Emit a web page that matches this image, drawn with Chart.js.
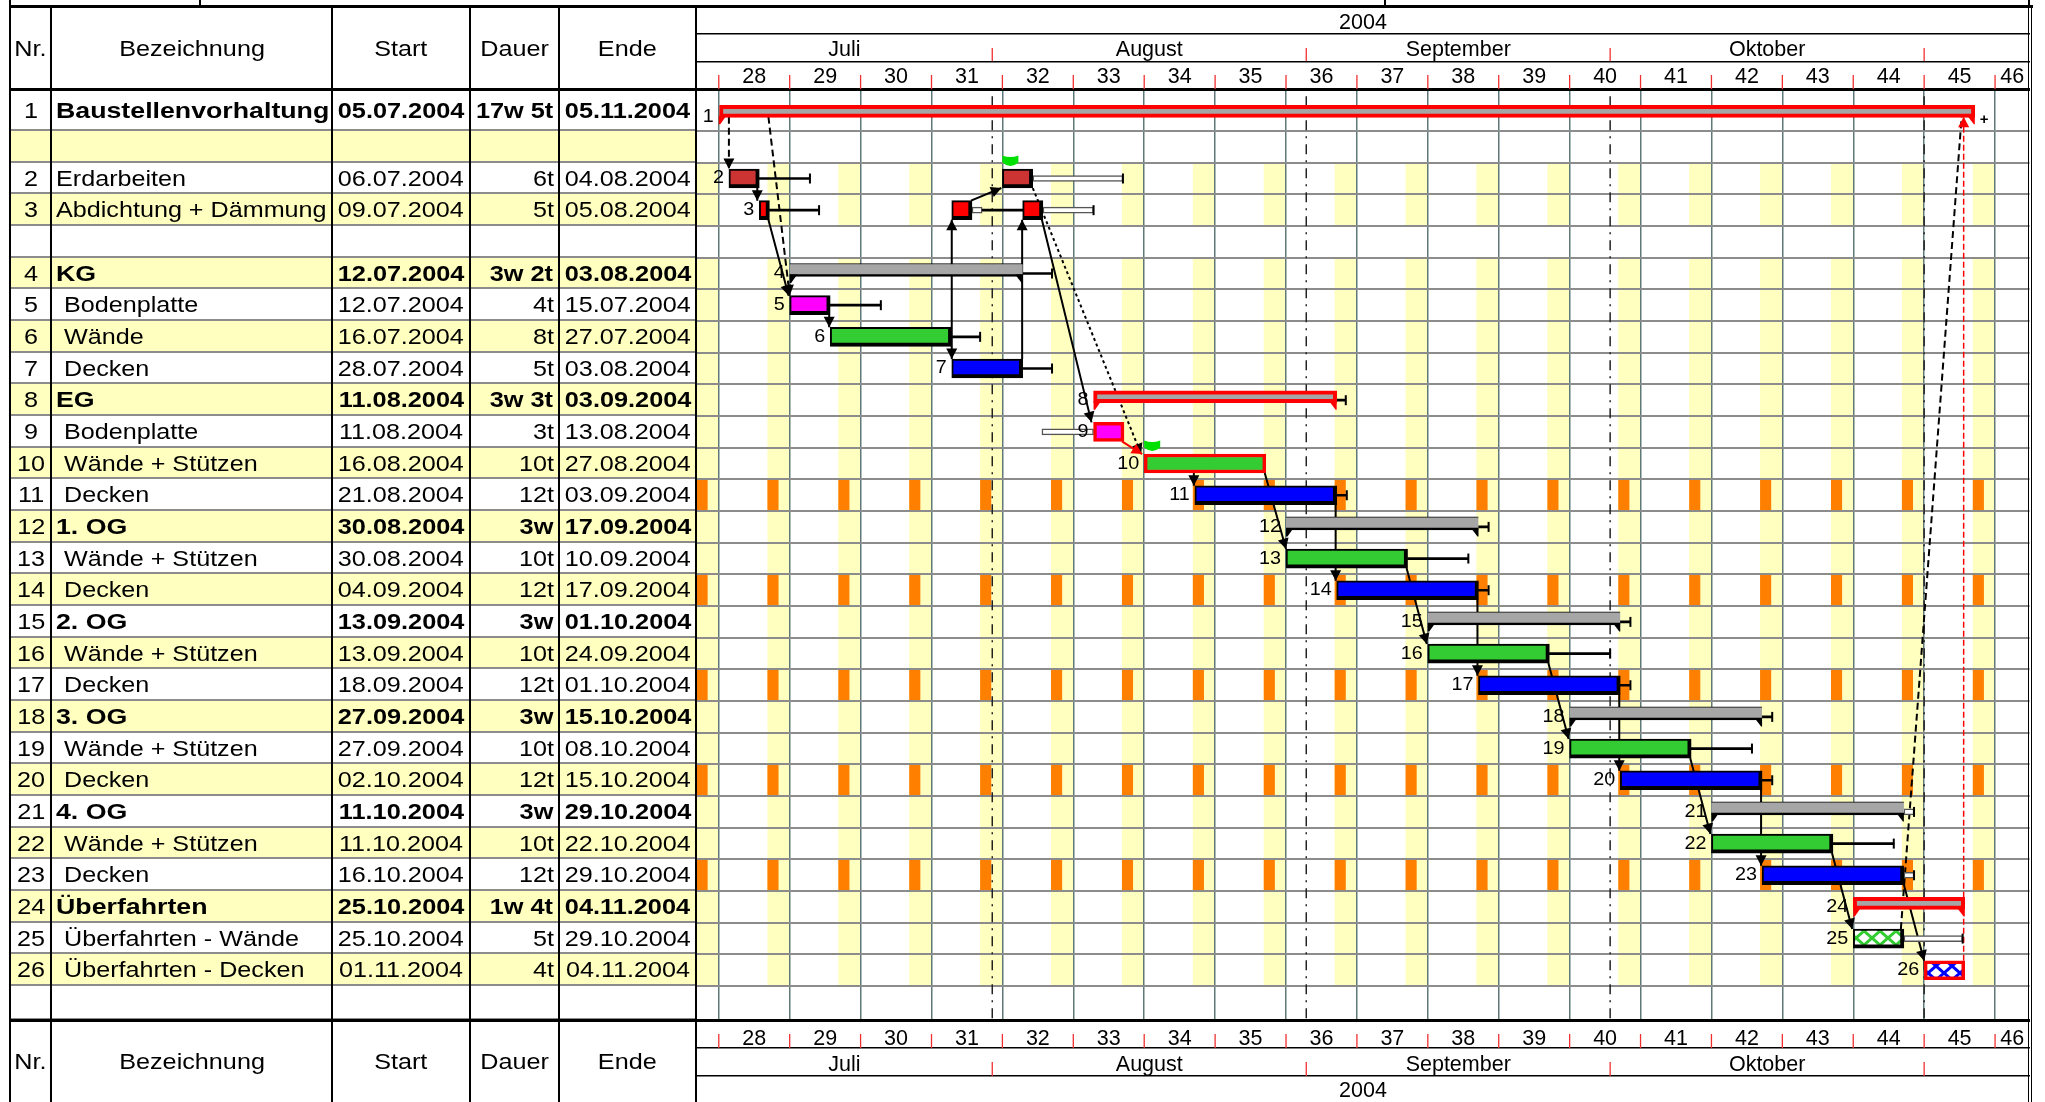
<!DOCTYPE html>
<html>
<head>
    <title>Bauzeitenplan 2004</title>
    <script src="https://cdn.jsdelivr.net/npm/chart.js"></script>
    <style>
        html, body { margin: 0; background: #fff; overflow: hidden; }
        body { width: 2045px; height: 1102px; position: relative; font-family: "Liberation Sans", Arial, sans-serif; color: #000; }
        canvas { position: absolute; left: 0; top: 0; }
        .hline, .vline { position: absolute; background: #000; }
        .row { position: absolute; left: 10px; width: 687px; box-sizing: border-box; border-bottom: 2px solid #8c8c8c; display: grid; grid-template-columns: 41.5px 280.5px 138px 88.5px 138.5px; }
        .row.yellow { background: #ffffc0; }
        .head { border-bottom: none; font-size: 22.5px; }
        .cell { white-space: nowrap; overflow: visible; text-align: center; }
        .cell span { display: inline-block; transform: scaleX(1.12); }
        .row.task { font-size: 21.5px; }
        .row.task .cell span { transform: scaleX(1.17); }
        .row.task.bold { font-weight: bold; font-size: 22px; }
        .row.task.bold .cell span { transform: scaleX(1.15); }
        .row.task.bold .cell.name span { transform: scaleX(1.215); }
        .row.task.bold .cell.nr { font-weight: normal; }
        .name { text-align: left; padding-left: 4px; }
        .name span { transform-origin: left center; }
        .name.sub { padding-left: 12px; }
        .dur { text-align: right; padding-right: 5px; }
        .dur span { transform-origin: right center; }
    </style>
</head>
<body>
    <canvas id="gantt" width="2045" height="1102"></canvas>
    <div id="table"></div>

    <script>
        // table columns
        const headers = ['Nr.', 'Bezeichnung', 'Start', 'Dauer', 'Ende'];
        const taskNames = ['Baustellenvorhaltung', 'Erdarbeiten', 'Abdichtung + Dämmung', 'KG', ' Bodenplatte', ' Wände', ' Decken', 'EG', ' Bodenplatte', ' Wände + Stützen', ' Decken', '1. OG', ' Wände + Stützen', ' Decken', '2. OG', ' Wände + Stützen', ' Decken', '3. OG', ' Wände + Stützen', ' Decken', '4. OG', ' Wände + Stützen', ' Decken', 'Überfahrten', ' Überfahrten - Wände', ' Überfahrten - Decken'];
        const taskStarts = ['05.07.2004', '06.07.2004', '09.07.2004', '12.07.2004', '12.07.2004', '16.07.2004', '28.07.2004', '11.08.2004', '11.08.2004', '16.08.2004', '21.08.2004', '30.08.2004', '30.08.2004', '04.09.2004', '13.09.2004', '13.09.2004', '18.09.2004', '27.09.2004', '27.09.2004', '02.10.2004', '11.10.2004', '11.10.2004', '16.10.2004', '25.10.2004', '25.10.2004', '01.11.2004'];
        const taskDurations = ['17w 5t', '6t', '5t', '3w 2t', '4t', '8t', '5t', '3w 3t', '3t', '10t', '12t', '3w', '10t', '12t', '3w', '10t', '12t', '3w', '10t', '12t', '3w', '10t', '12t', '1w 4t', '5t', '4t'];
        const taskEnds = ['05.11.2004', '04.08.2004', '05.08.2004', '03.08.2004', '15.07.2004', '27.07.2004', '03.08.2004', '03.09.2004', '13.08.2004', '27.08.2004', '03.09.2004', '17.09.2004', '10.09.2004', '17.09.2004', '01.10.2004', '24.09.2004', '01.10.2004', '15.10.2004', '08.10.2004', '15.10.2004', '29.10.2004', '22.10.2004', '29.10.2004', '04.11.2004', '29.10.2004', '04.11.2004'];
        const boldTasks = [1, 4, 8, 12, 15, 18, 21, 24];

        // time axis, in days after Monday 05.07.2004
        const weekLabels = ['28', '29', '30', '31', '32', '33', '34', '35', '36', '37', '38', '39', '40', '41', '42', '43', '44', '45', '46'];
        const weekStarts = [0, 7, 14, 21, 28, 35, 42, 49, 56, 63, 70, 77, 84, 91, 98, 105, 112, 119, 126];
        const weekCentres = [3.5, 10.5, 17.5, 24.5, 31.5, 38.5, 45.5, 52.5, 59.5, 66.5, 73.5, 80.5, 87.5, 94.5, 101.5, 108.5, 115.5, 122.5, 127.7];
        const monthLabels = ['Juli', 'August', 'September', 'Oktober'];
        const monthCentres = [12.4, 42.5, 73, 103.5];
        const monthStarts = [27, 58, 88, 119];
        const yearLabels = ['2004'];
        const yearCentres = [63.6];
        const saturdays = [-2, 5, 12, 19, 26, 33, 40, 47, 54, 61, 68, 75, 82, 89, 96, 103, 110, 117, 124];
        const orangeRows = [11, 14, 17, 20, 23];
        const weekendRows = [2, 3, 4, 5, 6, 7, 8, 9, 10, 11, 12, 13, 14, 15, 16, 17, 18, 19, 20, 21, 22, 23, 24, 25, 26];

        // bars: [task, from day, to day]
        const earthBars = [[2, 1, 4], [2, 28, 31]];
        const sealBars = [[3, 4, 5], [3, 23, 25], [3, 30, 32]];
        const slabBars = [[5, 7, 11]];
        const slabCriticalBars = [[9, 37, 40]];
        const wallBars = [[6, 11, 23], [13, 56, 68], [16, 70, 82], [19, 84, 96], [22, 98, 110]];
        const wallCriticalBars = [[10, 42, 54]];
        const deckBars = [[7, 23, 30], [11, 47, 61], [14, 61, 75], [17, 75, 89], [20, 89, 103], [23, 103, 117]];
        const wallPlanBars = [[25, 112, 117]];
        const deckPlanBars = [[26, 119, 123]];
        const summaryBars = [[4, 7, 30], [12, 56, 75], [15, 70, 89], [18, 84, 103], [21, 98, 117]];
        const summaryCriticalBars = [[1, 0, 124], [8, 37, 61], [24, 112, 123]];

        // float: [task, from day, to day, end cap]
        const floatLines = [[2, 4, 9, 1], [3, 5, 9.9, 1], [3, 26, 30, 0], [4, 30, 32.9, 1], [5, 11, 16, 1], [6, 23, 25.8, 1], [7, 30, 32.9, 1], [8, 61, 61.9, 1], [11, 61, 62, 1], [12, 75, 76, 1], [13, 68, 74, 1], [14, 75, 76, 1], [15, 89, 90, 1], [16, 82, 88, 1], [17, 89, 90, 1], [18, 103, 104, 1], [19, 96, 102, 1], [20, 103, 104, 1], [22, 110, 116, 1]];
        const floatHollow = [[2, 31, 39.9, 1], [3, 25, 26, 0], [3, 32, 37, 1], [9, 31.9, 37, 0], [21, 117, 118, 1], [23, 117, 118, 1], [25, 117, 122.8, 1]];

        // links: [from day, from task, to day, to task]
        const solidLinks = [[3.8, 2, 3.8, 3], [4.9, 3, 6.9, 5], [10.9, 5, 10.9, 6], [23, 6, 23, 7], [23, 7, 23, 3], [29.95, 7, 29.95, 3], [24.9, 3, 27.9, 2], [31.9, 3, 36.8, 9], [46.9, 10, 46.9, 11], [53.9, 10, 56, 13], [60.9, 11, 60.9, 14], [67.9, 13, 69.9, 16], [74.9, 14, 74.9, 17], [81.9, 16, 83.9, 19], [88.9, 17, 88.9, 20], [95.9, 19, 97.9, 22], [102.9, 20, 102.9, 23], [109.9, 22, 111.9, 25], [117, 23, 119, 26]];
        const dashedLinks = [[1, 1, 1, 2], [4.9, 1, 7, 5]];
        const dashedOpenLinks = [[116.7, 25, 122.7, 1]];
        const dottedLinks = [[31, 2, 41.7, 10]];
        const redLinks = [[39.8, 9, 41.8, 10]];
        const redDashedLinks = [[122.9, 26, 122.9, 1]];
        const flags = [[28, 2], [42, 10]];

        // taller first row, then blank row, tasks 2+3, blank row, rest
        const rowMid = nr => nr === 1 ? -0.65 : (nr <= 3 ? nr - 0.5 : nr + 0.5);
        const summaryRow = nr => nr === 1 ? -0.62 : rowMid(nr) - 0.11;
        const linkRow = nr => nr === 1 ? -0.75 : rowMid(nr);
        const HALF_BAR = 0.3;

        function barData(list, rowFn) {
            return list.map(b => ({ x: [b[1], b[2]], y: rowFn(b[0]) }));
        }

        function linkData(list) {
            const out = [];
            list.forEach(l => {
                const dir = l[3] > l[1] ? 1 : -1;
                out.push({ x: l[0], y: linkRow(l[1]) + dir * HALF_BAR });
                out.push({ x: l[2], y: linkRow(l[3]) - dir * HALF_BAR });
                out.push({ x: null, y: null });
            });
            return out;
        }

        function hatch(color) {
            const c = document.createElement('canvas');
            c.width = 16;
            c.height = 14;
            const g = c.getContext('2d');
            g.fillStyle = '#fff';
            g.fillRect(0, 0, 16, 14);
            g.strokeStyle = color;
            g.lineWidth = 3;
            g.beginPath();
            g.moveTo(0, 0); g.lineTo(16, 14);
            g.moveTo(16, 0); g.lineTo(0, 14);
            g.stroke();
            return g.createPattern(c, 'repeat');
        }

        const shadowBorder = { top: 2, left: 2, right: 4, bottom: 4 };

        function bars(list, fill, border, width, thickness, rowFn) {
            return {
                type: 'bar',
                data: barData(list, rowFn || rowMid),
                backgroundColor: fill,
                borderColor: border,
                borderWidth: width,
                borderSkipped: false,
                barThickness: thickness || 19,
                grouped: false,
                order: 1
            };
        }

        function links(list, color, width, dash) {
            return {
                type: 'line',
                data: linkData(list),
                borderColor: color,
                borderWidth: width,
                borderDash: dash,
                pointRadius: 0,
                fill: false,
                spanGaps: false,
                order: 3
            };
        }

        const monthLines = [];
        monthStarts.forEach(d => {
            monthLines.push({ x: d, y: -1.1 }, { x: d, y: 28.07 }, { x: null, y: null });
        });

        const datasets = [
            bars(earthBars, '#cc3333', '#000', shadowBorder),
            bars(sealBars, '#ff0000', '#000', shadowBorder),
            bars(slabBars, '#ff00ff', '#000', shadowBorder),
            bars(slabCriticalBars, '#ff00ff', '#ff0000', 3.5),
            bars(wallBars, '#33cc33', '#000', shadowBorder),
            bars(wallCriticalBars, '#33cc33', '#ff0000', 3.5),
            bars(deckBars, '#0000ff', '#000', shadowBorder),
            bars(wallPlanBars, hatch('#33cc33'), '#000', shadowBorder),
            bars(deckPlanBars, hatch('#0000ff'), '#ff0000', 3.5),
            bars(summaryBars, '#a6a6a6', '#000', { top: 1, left: 0, right: 0, bottom: 2.5 }, 13, summaryRow),
            bars(summaryCriticalBars, '#a6a6a6', '#ff0000', 4, 12, summaryRow),
            Object.assign(bars(floatLines, '#000', '#000', 0, 2), { order: 2 }),
            Object.assign(bars(floatHollow, '#fff', '#555', 1.5, 6), { order: 2 }),
            links(solidLinks, '#000', 2, []),
            links(dashedLinks, '#000', 2, [7, 4]),
            links(dashedOpenLinks, '#000', 2, [7, 4]),
            links(dottedLinks, '#000', 2, [3, 3]),
            links(redLinks, '#ff0000', 2, []),
            links(redDashedLinks, '#ff0000', 1.5, [6, 3]),
            { type: 'line', data: monthLines, borderColor: '#222', borderWidth: 1.5, borderDash: [10, 6, 2, 6], pointRadius: 0, spanGaps: false, order: 4 }
        ];

        const X_MIN = -2.15;
        const X_MAX = 129.4;

        function labelAxis(position, weight, height, centres, labels, pad, borderWidth) {
            return {
                type: 'linear',
                position: position,
                weight: weight,
                min: X_MIN,
                max: X_MAX,
                offset: false,
                grid: { display: false, drawTicks: false },
                border: { display: true, color: '#000', width: borderWidth },
                ticks: {
                    autoSkip: false,
                    maxRotation: 0,
                    padding: pad,
                    color: '#000',
                    font: { family: 'Liberation Sans', size: 21.5 },
                    callback: (v, i) => labels[i]
                },
                afterBuildTicks: s => { s.ticks = centres.map(v => ({ value: v })); },
                afterFit: s => { s.height = height; }
            };
        }

        const backdrop = {
            id: 'backdrop',
            beforeDraw(chart) {
                const { ctx, scales: { x, y } } = chart;
                ctx.save();
                weekendRows.forEach(nr => {
                    const top = y.getPixelForValue(rowMid(nr) - 0.5);
                    const bottom = y.getPixelForValue(rowMid(nr) + 0.5);
                    saturdays.forEach(d => {
                        const l = x.getPixelForValue(Math.max(d - 0.2, X_MIN));
                        ctx.fillStyle = '#ffffc0';
                        ctx.fillRect(l, top, x.getPixelForValue(d + 2) - l, bottom - top);
                        if (orangeRows.includes(nr)) {
                            ctx.fillStyle = '#ff8000';
                            ctx.fillRect(l, top, x.getPixelForValue(d + 0.9) - l, bottom - top);
                        }
                    });
                });
                ctx.restore();
            }
        };

        function arrowHead(ctx, x1, y1, x2, y2, color) {
            const a = Math.atan2(y2 - y1, x2 - x1);
            ctx.save();
            ctx.translate(x2, y2);
            ctx.rotate(a);
            ctx.fillStyle = color;
            ctx.beginPath();
            ctx.moveTo(0, 0);
            ctx.lineTo(-10.5, -5.5);
            ctx.lineTo(-10.5, 5.5);
            ctx.closePath();
            ctx.fill();
            ctx.restore();
        }

        const decorations = {
            id: 'decorations',
            afterDatasetsDraw(chart) {
                const { ctx, scales: { x, y } } = chart;
                ctx.save();

                // tabs under summary bars
                const tabs = (list, color) => list.forEach(b => {
                    const l = x.getPixelForValue(b[1]);
                    const r = x.getPixelForValue(b[2]);
                    const bot = y.getPixelForValue(summaryRow(b[0])) + 5.5;
                    ctx.fillStyle = color;
                    ctx.beginPath();
                    ctx.moveTo(l, bot - 1); ctx.lineTo(l + 7.5, bot - 1); ctx.lineTo(l + 1.5, bot + 7.5); ctx.lineTo(l, bot + 7.5);
                    ctx.closePath(); ctx.fill();
                    ctx.beginPath();
                    ctx.moveTo(r, bot - 1); ctx.lineTo(r - 7.5, bot - 1); ctx.lineTo(r - 1, bot + 7.5); ctx.lineTo(r, bot + 7.5);
                    ctx.closePath(); ctx.fill();
                });
                tabs(summaryBars, '#000');
                tabs(summaryCriticalBars, '#ff0000');

                // float end caps
                ctx.fillStyle = '#000';
                floatLines.concat(floatHollow).forEach(f => {
                    if (f[3]) {
                        ctx.fillRect(x.getPixelForValue(f[2]) - 1, y.getPixelForValue(rowMid(f[0])) - 5, 2, 10);
                    }
                });

                // arrow heads
                const heads = (list, color) => list.forEach(l => {
                    const dir = l[3] > l[1] ? 1 : -1;
                    arrowHead(ctx, x.getPixelForValue(l[0]), y.getPixelForValue(linkRow(l[1]) + dir * HALF_BAR),
                        x.getPixelForValue(l[2]), y.getPixelForValue(linkRow(l[3]) - dir * HALF_BAR), color);
                });
                heads(solidLinks, '#000');
                heads(dashedLinks, '#000');
                heads(dottedLinks, '#000');
                heads(redLinks, '#ff0000');
                heads(redDashedLinks, '#ff0000');

                // green flags
                ctx.fillStyle = '#00e000';
                flags.forEach(f => {
                    const fx = x.getPixelForValue(f[0]);
                    const fy = y.getPixelForValue(rowMid(f[1])) - 23;
                    ctx.beginPath();
                    ctx.moveTo(fx, fy);
                    ctx.quadraticCurveTo(fx + 8, fy + 3, fx + 16, fy);
                    ctx.lineTo(fx + 16, fy + 7);
                    ctx.quadraticCurveTo(fx + 8, fy + 14, fx, fy + 7);
                    ctx.closePath();
                    ctx.fill();
                });

                // task numbers beside the first bar of each row
                const firstDay = {};
                [earthBars, sealBars, slabBars, slabCriticalBars, wallBars, wallCriticalBars, deckBars, wallPlanBars, deckPlanBars, summaryBars, summaryCriticalBars].forEach(list => {
                    list.forEach(b => { if (firstDay[b[0]] === undefined) firstDay[b[0]] = b[1]; });
                });
                ctx.fillStyle = '#000';
                ctx.font = '18px "Liberation Sans"';
                ctx.textAlign = 'right';
                ctx.textBaseline = 'middle';
                Object.keys(firstDay).forEach(k => {
                    const nr = Number(k);
                    const px = x.getPixelForValue(firstDay[nr]) - 5;
                    const py = nr === 1 ? y.getPixelForValue(-0.45) : y.getPixelForValue(rowMid(nr));
                    ctx.save();
                    ctx.translate(px, py);
                    ctx.scale(1.1, 1);
                    ctx.fillText(String(nr), 0, 0);
                    ctx.restore();
                });
                ctx.textAlign = 'left';
                ctx.font = 'bold 15px "Liberation Sans"';
                ctx.fillText('+', x.getPixelForValue(124) + 5, y.getPixelForValue(-0.35));

                // red calendar ticks in the header and footer cells
                ctx.strokeStyle = '#f03030';
                ctx.lineWidth = 1.3;
                const tick = (d, y1, y2) => {
                    const px = x.getPixelForValue(d);
                    ctx.beginPath(); ctx.moveTo(px, y1); ctx.lineTo(px, y2); ctx.stroke();
                };
                weekStarts.forEach(d => { tick(d, 75, 89); tick(d, 1034, 1048); });
                monthStarts.forEach(d => { tick(d, 48, 61); tick(d, 1062, 1076); });
                ctx.restore();
            }
        };

        new Chart(document.getElementById('gantt'), {
            type: 'bar',
            data: { datasets: datasets },
            options: {
                indexAxis: 'y',
                responsive: false,
                animation: false,
                events: [],
                layout: { padding: { left: 697, right: 15.5, top: 6.7, bottom: 0 } },
                plugins: { legend: { display: false }, tooltip: { enabled: false } },
                scales: {
                    x: {
                        type: 'linear',
                        position: 'top',
                        weight: 0,
                        min: X_MIN,
                        max: X_MAX,
                        offset: false,
                        grid: { color: '#5f7878', lineWidth: 1.5, drawTicks: false, offset: false },
                        border: { display: false },
                        ticks: { display: false },
                        afterBuildTicks: s => { s.ticks = weekStarts.map(v => ({ value: v })); },
                        afterFit: s => { s.height = 0; }
                    },
                    xWeekTop: labelAxis('top', 1, 28, weekCentres, weekLabels, 0, 3),
                    xMonthTop: labelAxis('top', 2, 27.7, monthCentres, monthLabels, -1, 1.5),
                    xYearTop: labelAxis('top', 3, 27.3, yearCentres, yearLabels, -1.6, 1.5),
                    xWeekBottom: labelAxis('bottom', 1, 28, weekCentres, weekLabels, 6, 3),
                    xMonthBottom: labelAxis('bottom', 2, 28, monthCentres, monthLabels, 4.6, 1.5),
                    xYearBottom: labelAxis('bottom', 3, 26, yearCentres, yearLabels, 2, 1.5),
                    y: {
                        type: 'linear',
                        reverse: true,
                        min: -1.304,
                        max: 28.07,
                        offset: false,
                        grid: { color: '#8c8c8c', lineWidth: 2, drawTicks: false, offset: false },
                        border: { display: false },
                        ticks: { display: false },
                        afterBuildTicks: s => {
                            s.ticks = [0, 1, 2, 3, 4, 5, 6, 7, 8, 9, 10, 11, 12, 13, 14, 15, 16, 17, 18, 19, 20, 21, 22, 23, 24, 25, 26, 27].map(v => ({ value: v }));
                        },
                        afterFit: s => { s.width = 0; }
                    }
                }
            },
            plugins: [backdrop, decorations]
        });

        // HTML table left of the chart
        const ROW_H = 31.67;
        const table = document.getElementById('table');

        function cell(text, cls) {
            const d = document.createElement('div');
            d.className = 'cell ' + cls;
            const s = document.createElement('span');
            s.textContent = text;
            d.appendChild(s);
            return d;
        }

        function addRow(top, height, cls, values) {
            const r = document.createElement('div');
            r.className = 'row ' + cls;
            r.style.top = top + 'px';
            r.style.height = height + 'px';
            r.style.lineHeight = (height + 1) + 'px';
            values.forEach((v, i) => {
                let c = i === 0 ? 'nr' : '';
                if (i === 1 && cls.includes('task')) c = v.startsWith(' ') ? 'name sub' : 'name';
                if (i === 3 && cls.includes('task')) c = 'dur';
                r.appendChild(cell(v.trim(), c));
            });
            table.appendChild(r);
        }

        addRow(6.7, 83, 'head', headers);
        addRow(1020, 82, 'head', headers);
        const taskValues = nr => [String(nr), taskNames[nr - 1], taskStarts[nr - 1], taskDurations[nr - 1], taskEnds[nr - 1]];
        const empties = ['', '', '', '', ''];
        addRow(89.7, 41.3, 'task bold', taskValues(1));
        addRow(131, ROW_H, 'task yellow', empties);
        addRow(131 + ROW_H, ROW_H, 'task', taskValues(2));
        addRow(131 + 2 * ROW_H, ROW_H, 'task yellow', taskValues(3));
        addRow(131 + 3 * ROW_H, ROW_H, 'task', empties);
        for (let nr = 4; nr <= 26; nr++) {
            const cls = 'task' + (nr % 2 === 0 ? ' yellow' : '') + (boldTasks.includes(nr) ? ' bold' : '');
            addRow(131 + nr * ROW_H, ROW_H, cls, taskValues(nr));
        }
        addRow(131 + 27 * ROW_H, ROW_H + 2, 'task', empties);

        // frame lines that run across table and chart
        function line(cls, left, top, w, h) {
            const d = document.createElement('div');
            d.className = cls;
            d.style.cssText = `left:${left}px;top:${top}px;width:${w}px;height:${h}px`;
            document.body.appendChild(d);
        }
        [10, 51, 331.5, 470, 558.5, 696].forEach(px => line('vline', px - 1, 6, 2, 1096));
        [2028.5, 2031.5].forEach(px => line('vline', px - 0.75, 6, 1.5, 1096));
        line('hline', 9, 5.2, 2024, 3);
        line('hline', 9, 88.2, 688, 3);
        line('hline', 9, 1018.5, 688, 3);
        [10, 200, 1385, 2029].forEach(px => line('vline', px - 1, 0, 2, 6));
    </script>
</body>
</html>
